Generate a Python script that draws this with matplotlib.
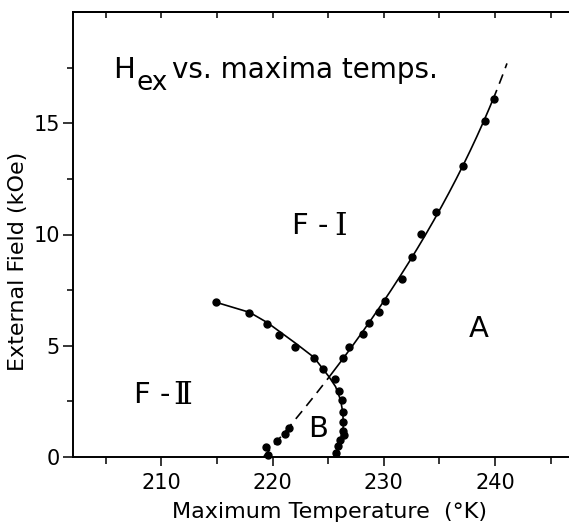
import numpy as np
import matplotlib
matplotlib.use("Agg")
import matplotlib.pyplot as plt

# ---- data ----
# phase boundary F-I / F-II / B (left, curved branch): measured points
left_T = [214.9, 217.9, 219.5, 220.6, 222.0, 223.7, 224.5, 225.6, 226.0, 226.2,
          226.3, 226.3, 226.3, 226.4, 226.1, 225.9, 225.7]
left_H = [6.95, 6.49, 5.96, 5.48, 4.96, 4.44, 3.96, 3.49, 2.97, 2.56,
          2.04, 1.59, 1.18, 0.99, 0.76, 0.51, 0.17]
# drawn curve through the left branch
left_curve_T = [214.93, 217.93, 219.52, 222.07, 223.71, 225.06, 225.66, 226.11,
                226.32, 226.35, 226.11, 225.66, 225.6]
left_curve_H = [6.95, 6.50, 6.04, 5.11, 4.48, 3.61, 3.16, 2.56,
                1.96, 1.36, 0.76, 0.09, 0.0]

# right branch (F-I / A boundary): measured points
right_T = [219.6, 219.4, 220.4, 221.1, 221.5, 226.3, 226.9, 228.15, 228.7, 229.6,
           230.1, 231.6, 232.5, 233.3, 234.7, 237.1, 239.1, 239.9]
right_H = [0.09, 0.46, 0.73, 1.03, 1.32, 4.44, 4.96, 5.51, 6.01, 6.50,
           7.01, 8.01, 9.00, 10.04, 11.02, 13.08, 15.11, 16.08]
# field values where the right boundary changes style (dashed / solid / dashed)
right_breaks_H = [0.0, 3.61, 16.08, 17.69]

xlim = (202, 246.65)
ylim = (0, 20)
x_major = [210, 220, 230, 240]
x_minor = [205, 215, 225, 235, 245]
y_major = [0, 5, 10, 15]
y_minor = [2.5, 7.5, 12.5, 17.5]

# ---- figure ----
W, H = 569, 523
fig = plt.figure(figsize=(W / 100, H / 100), dpi=100)
ax = fig.add_axes([72.5 / W, 1 - 457 / H, 1 - 72.5 / W, (457 - 12) / H])
ax.set_xlim(*xlim)
ax.set_ylim(*ylim)


def fx(px):
    return px / W


def fy(py):
    return 1 - py / H


lw = 1.2
ms = 5
# right boundary: quadratic fit T(H) through the measured points
coef = np.polyfit(right_H, right_T, 2)
fit = np.poly1d(coef)
h0 = np.linspace(right_breaks_H[0], right_breaks_H[1], 50)
h1 = np.linspace(right_breaks_H[1], right_breaks_H[2], 200)
h2 = np.linspace(right_breaks_H[2], right_breaks_H[3], 30)
ax.plot(fit(h0), h0, color="black", lw=lw, ls=(0, (6, 4)))
ax.plot(fit(h1), h1, color="black", lw=lw)
ax.plot(fit(h2), h2, color="black", lw=lw, ls=(0, (6, 4)))
ax.plot(right_T, right_H, "o", color="black", ms=ms, clip_on=False)

# left boundary
ax.plot(left_curve_T, left_curve_H, color="black", lw=lw)
ax.plot(left_T, left_H, "o", color="black", ms=ms, clip_on=False)

# region labels
lab_fs = 21
fig.text(fx(292), fy(234), "F -", fontsize=lab_fs, ha="left", va="baseline")
fig.text(fx(334), fy(235), "\u2160", fontsize=23, ha="left", va="baseline",
         family="DejaVu Serif")
fig.text(fx(134), fy(403), "F -", fontsize=lab_fs, ha="left", va="baseline")
fig.text(fx(173), fy(404), "\u2161", fontsize=23, ha="left", va="baseline",
         family="DejaVu Serif")
fig.text(fx(479), fy(337), "A", fontsize=lab_fs, ha="center", va="baseline")
fig.text(fx(318.5), fy(437), "B", fontsize=lab_fs, ha="center", va="baseline")

# spines / ticks
for s in ["left", "bottom", "top"]:
    ax.spines[s].set_linewidth(1.4)
ax.spines["right"].set_visible(False)
ax.set_xticks(x_major)
ax.set_xticks(x_minor, minor=True)
ax.set_yticks(y_major)
ax.set_yticks(y_minor, minor=True)
ax.tick_params(axis="x", which="major", direction="out", length=6.5, width=1.1,
               labelsize=15, pad=5)
ax.tick_params(axis="x", which="minor", direction="out", length=5, width=1.1)
ax.tick_params(axis="y", which="major", direction="out", length=7, width=1.1,
               labelsize=15, pad=2)
ax.tick_params(axis="y", which="minor", direction="out", length=4.3, width=1.1)

top = ax.secondary_xaxis("top")
top.set_xticks(sorted(x_major + x_minor))
top.tick_params(direction="in", length=4.5, width=1.1, labeltop=False)
top.spines["top"].set_linewidth(1.4)

# title text inside the plot
fig.text(fx(113), fy(78), "H", fontsize=21, va="baseline", ha="left")
fig.text(fx(137), fy(90), "ex", fontsize=19, va="baseline", ha="left")
fig.text(fx(172), fy(78), "vs. maxima temps.", fontsize=20, va="baseline", ha="left")

# axis labels
fig.text(fx(329), fy(518), "Maximum Temperature  (\u00b0K)", fontsize=16,
         ha="center", va="baseline")
fig.text(fx(18.5), fy(261.5), "External Field (kOe)", fontsize=16,
         ha="center", va="center", rotation=90)

fig.savefig("out.png", dpi=100)
